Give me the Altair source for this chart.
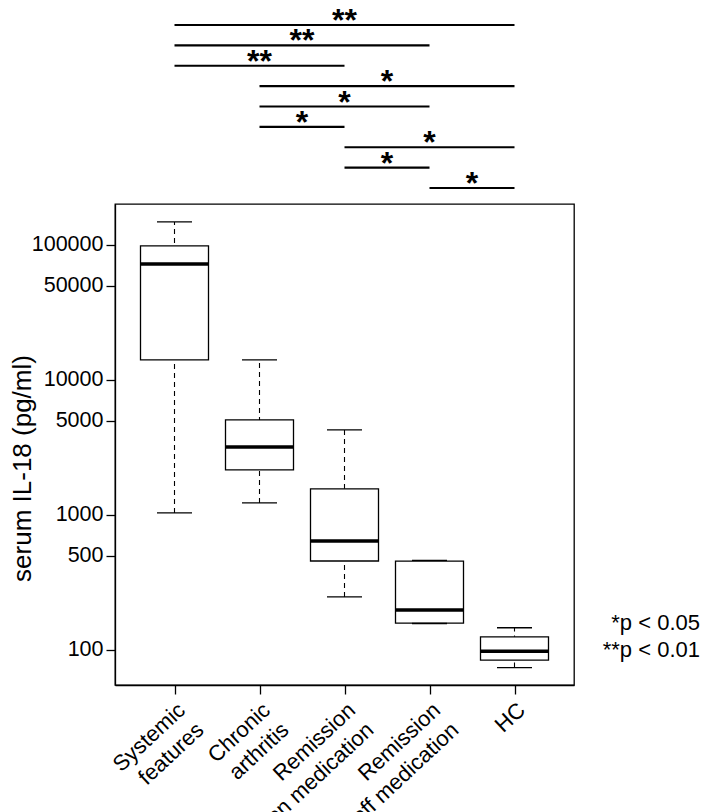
import altair as alt
import pandas as pd

# ---------------- data ----------------
groups = ["Systemic\nfeatures", "Chronic\narthritis", "Remission\non medication",
          "Remission\noff medication", "HC"]
whisker_low = [1035, 1227, 247, 157, 74]
q1 = [14060, 2155, 456, 158, 84]
median = [72300, 3190, 641, 198, 98]
q3 = [98500, 5060, 1560, 455, 125]
whisker_high = [148000, 14060, 4265, 460, 146]

y_ticks = [100, 500, 1000, 5000, 10000, 50000, 100000]
y_domain = [55, 201000]

cmp_from = [0, 0, 0, 1, 1, 1, 2, 2, 3]
cmp_to = [4, 3, 2, 4, 3, 2, 4, 3, 4]
cmp_stars = ["**", "**", "**", "*", "*", "*", "*", "*", "*"]
cmp_row = [1, 2, 3, 4, 5, 6, 7, 8, 9]

legend_lines = ["*p < 0.05", "**p < 0.01"]

# ---------------- layout ----------------
FONT = "Liberation Sans"
W, H = 459, 481
TOP_H = 190
ROW1_Y, ROW9_Y = 17, 180
ROW_PX = (ROW9_Y - ROW1_Y) / 8
d0 = 1 - ROW1_Y / ROW_PX
d1 = d0 + TOP_H / ROW_PX

box_df = pd.DataFrame({"group": groups, "lo": whisker_low, "q1": q1,
                       "med": median, "q3": q3, "hi": whisker_high})
cmp_df = pd.DataFrame({"start": cmp_from, "end": cmp_to,
                       "stars": cmp_stars, "row": cmp_row})

xenc = alt.X("group:N", sort=groups,
             scale=alt.Scale(type="point", padding=0.7),
             axis=alt.Axis(title=None, labelExpr="split(datum.value, '\\n')",
                           labelAngle=317, labelAlign="right", labelBaseline="top",
                           labelFontSize=22, labelLineHeight=27, labelPadding=5,
                           labelOverlap=False, tickSize=9, tickWidth=1.3,
                           tickColor="black", domainColor="black", domainWidth=1.3,
                           labelColor="black", labelFont=FONT))
ysc = alt.Scale(type="log", domain=y_domain, nice=False)
yaxis = alt.Axis(values=y_ticks, format="d", title="serum IL-18 (pg/ml)",
                 labelFontSize=21.5, labelPadding=3, labelColor="black", labelFont=FONT,
                 tickSize=9, tickWidth=1.3, tickColor="black",
                 domainColor="black", domainWidth=1.3,
                 titleFontSize=26, titleFontWeight="normal", titleFont=FONT,
                 titleColor="black", titleAngle=270, titleX=-80, titleY=264,
                 titleAlign="center", titleBaseline="bottom")

base = alt.Chart(box_df)
whisk = base.mark_rule(strokeDash=[5, 4], strokeWidth=1.1, color="black").encode(
    x=xenc, y=alt.Y("lo:Q", scale=ysc, axis=yaxis), y2="hi:Q")
box = base.mark_bar(size=68, fill="white", stroke="black", strokeWidth=1.3).encode(
    x=xenc, y=alt.Y("q1:Q", scale=ysc), y2="q3:Q")
med = base.mark_tick(size=68, thickness=3.5, color="black", opacity=1).encode(
    x=xenc, y=alt.Y("med:Q", scale=ysc))
cap_lo = base.mark_tick(size=35, thickness=1.3, color="black", opacity=1).encode(
    x=xenc, y=alt.Y("lo:Q", scale=ysc))
cap_hi = base.mark_tick(size=35, thickness=1.3, color="black", opacity=1).encode(
    x=xenc, y=alt.Y("hi:Q", scale=ysc))
legend = alt.Chart(pd.DataFrame({"n": [0]})).mark_text(
    text=legend_lines, align="right", baseline="alphabetic", fontSize=22,
    lineHeight=27, font=FONT, color="black").encode(
    x=alt.value(585), y=alt.value(426))

bottom = alt.layer(whisk, box, med, cap_lo, cap_hi, legend).properties(
    width=W, height=H)

xq = alt.Scale(domain=[-0.7, len(groups) - 1 + 0.7], nice=False, zero=False)
yq = alt.Scale(domain=[d0, d1], reverse=True, nice=False, zero=False)
lines = alt.Chart(cmp_df).mark_rule(strokeWidth=2.2, color="black").encode(
    x=alt.X("start:Q", scale=xq, axis=None), x2="end:Q",
    y=alt.Y("row:Q", scale=yq, axis=None))
stars = alt.Chart(cmp_df).transform_calculate(
    mid="(datum.start + datum.end) / 2").mark_text(
    fontSize=32, fontWeight="bold", dy=6, baseline="alphabetic", align="center",
    font=FONT, color="black", clip=True).encode(
    x=alt.X("mid:Q", scale=xq, axis=None),
    y=alt.Y("row:Q", scale=yq, axis=None), text="stars:N")
top = alt.layer(lines, stars).properties(
    width=W, height=TOP_H, view=alt.ViewBackground(strokeWidth=0))

chart = alt.vconcat(top, bottom, spacing=5).properties(padding=0).configure(
    font=FONT).configure_view(stroke="black", strokeWidth=1.3).configure_axis(grid=False)

chart.save("out.html", embed_options={"renderer": "svg", "actions": False})
